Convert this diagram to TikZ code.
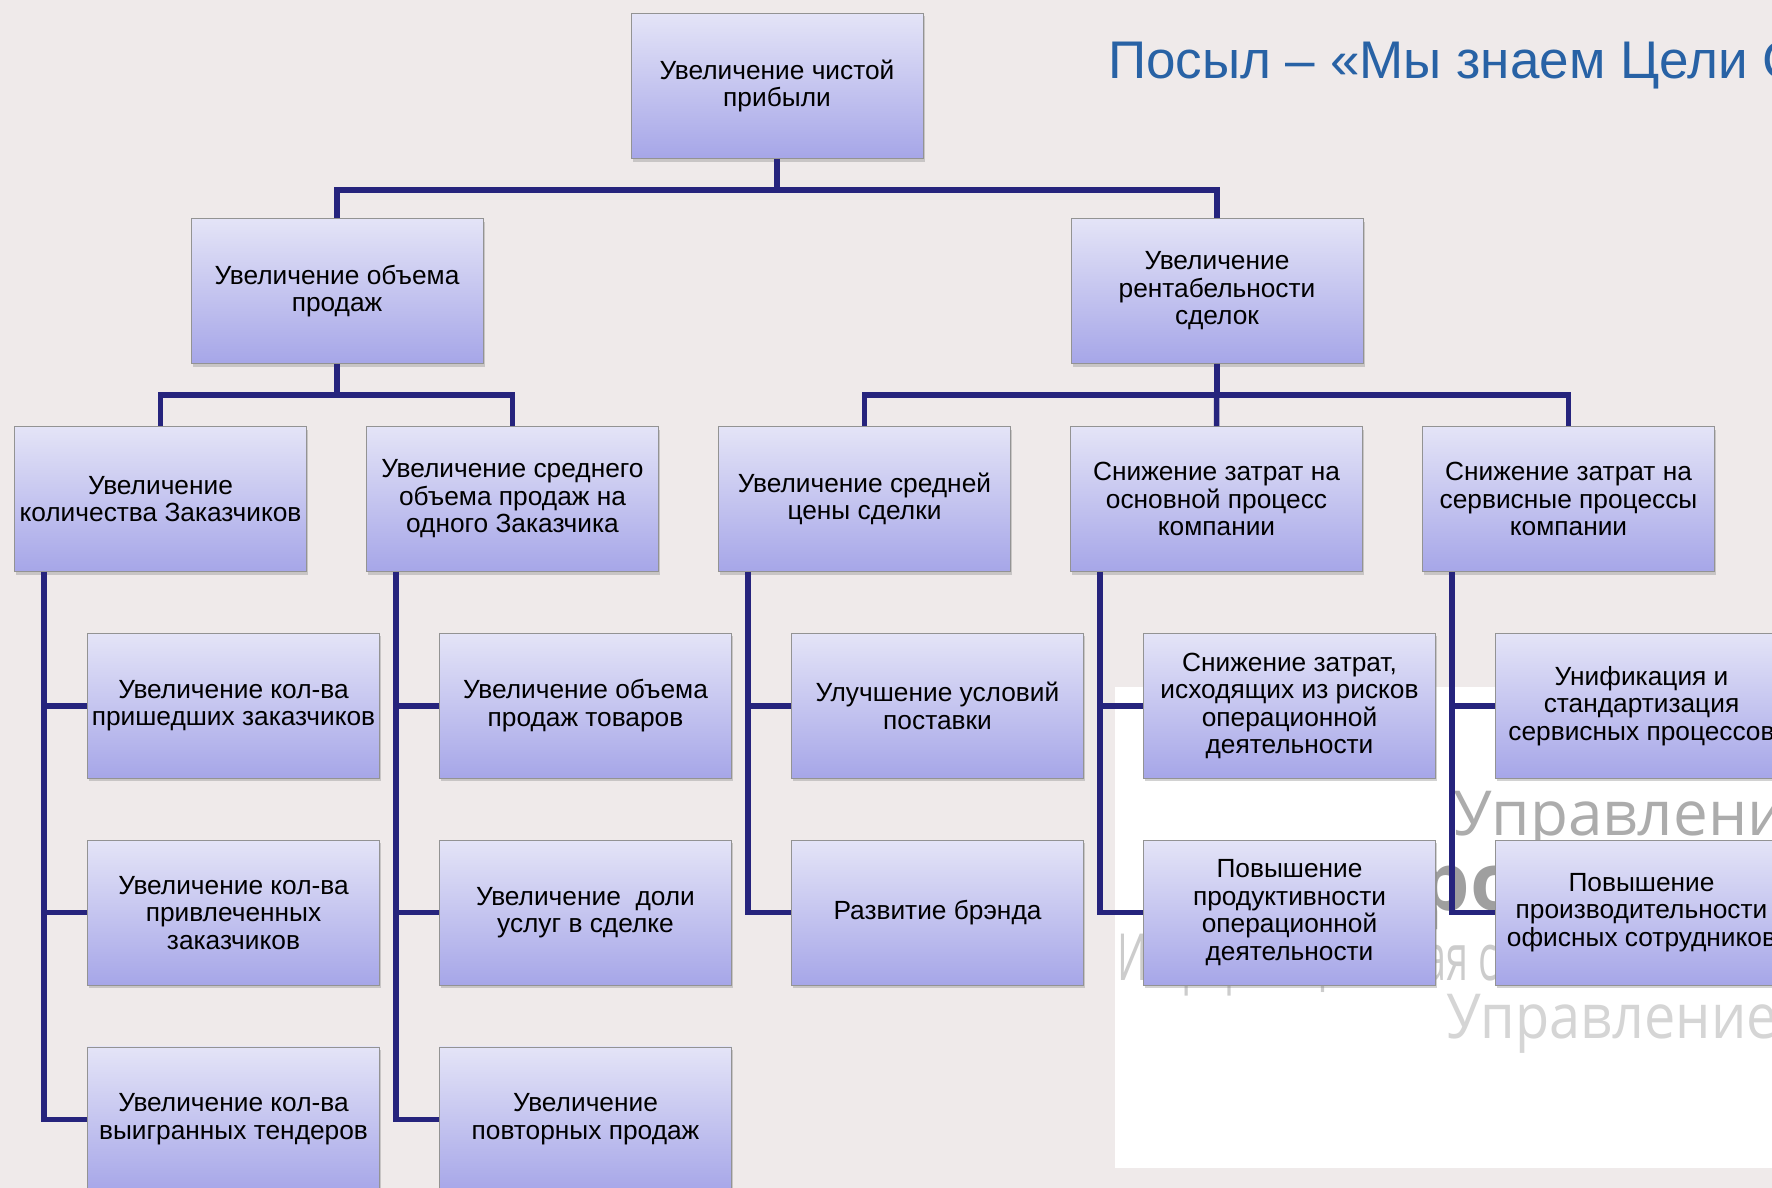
\documentclass[tikz,border=0pt]{standalone}
\usepackage{graphicx}
\usepackage{fontspec}
\setmainfont{Liberation Sans}
\newfontfamily\wmfont{Open Sans}
\usepackage{tikz}
\usetikzlibrary{positioning}
\usetikzlibrary{shadows}
\definecolor{paper}{RGB}{239,234,234}
\definecolor{navy}{RGB}{38,36,125}
\definecolor{boxtop}{RGB}{228,228,247}
\definecolor{boxbot}{RGB}{166,166,232}
\definecolor{titleblue}{RGB}{40,98,165}
\begin{document}
\begin{tikzpicture}[x=1pt,y=-1pt,node distance=352pt,
  goal/.style={draw=gray!85,line width=0.8pt,top color=boxtop,bottom color=boxbot,
    minimum width=292pt,minimum height=145pt,inner sep=0pt,align=center,
    font=\fontsize{26.3}{27.5}\selectfont,
    drop shadow={shadow xshift=1.5pt,shadow yshift=-3pt,opacity=0.35}},
  link/.style={draw=navy,line width=5.5pt},
  logotext/.style={anchor=base west,inner sep=0pt}]
  \useasboundingbox (0,0) rectangle (1772,1188);
  \clip (0,0) rectangle (1772,1188);
  \fill[paper] (0,0) rectangle (1772,1188);
  % white patch with the logo behind the boxes
  \begin{scope}
    \fill[white] (1115,687) rectangle (1772,1168);
    \clip (1115,687) rectangle (1772,1168);
    \node[logotext,text=gray!65,font=\wmfont\fontsize{62}{62}\selectfont] (w1) at (1453,835) {Управление};
    \node[logotext,text=gray!75,font=\wmfont\bfseries\fontsize{80}{80}\selectfont] (w2) at (1360,910) {Про};
    \node[logotext,text=gray!40,font=\wmfont\fontsize{65}{65}\selectfont] (w3) at (1117,980) {\scalebox{0.61}[1]{Информационная с}};
    \node[logotext,text=gray!33,font=\wmfont\fontsize{62}{62}\selectfont] (w4) at (1446,1038) {\scalebox{0.9}[1]{Управление}};
  \end{scope}
  \node[logotext,text=titleblue,font=\fontsize{53}{53}\selectfont] (title) at (1108,79) {Посыл – «Мы знаем Цели Собственника»};

  \node[goal] (0) at (777,86) {Увеличение чистой\\прибыли};
  \node[goal] (1) at (337,291) {Увеличение объема\\продаж};
  \node[goal] (2) at (1217,291) {Увеличение\\рентабельности\\сделок};
  \node[goal] (11) at (160.5,499) {Увеличение\\количества Заказчиков};
  \node[goal,right of=11] (12) {Увеличение среднего\\объема продаж на\\одного Заказчика};
  \node[goal,right of=12] (13) {Увеличение средней\\цены сделки};
  \node[goal,right of=13] (14) {Снижение затрат на\\основной процесс\\компании};
  \node[goal,right of=14] (15) {Снижение затрат на\\сервисные процессы\\компании};
  \node[goal,below=61pt of 11,xshift=73pt] (111) {Увеличение кол-ва\\пришедших заказчиков};
  \node[goal,below=61pt of 111] (112) {Увеличение кол-ва\\привлеченных\\заказчиков};
  \node[goal,below=61pt of 112] (113) {Увеличение кол-ва\\выигранных тендеров};
  \node[goal,below=61pt of 12,xshift=73pt] (121) {Увеличение объема\\продаж товаров};
  \node[goal,below=61pt of 121] (122) {Увеличение\ \ доли\\услуг в сделке};
  \node[goal,below=61pt of 122] (123) {Увеличение\\повторных продаж};
  \node[goal,below=61pt of 13,xshift=73pt] (131) {Улучшение условий\\поставки};
  \node[goal,below=61pt of 131] (132) {Развитие брэнда};
  \node[goal,below=61pt of 14,xshift=73pt] (141) {Снижение затрат,\\исходящих из рисков\\операционной\\деятельности};
  \node[goal,below=61pt of 141] (142) {Повышение\\продуктивности\\операционной\\деятельности};
  \node[goal,below=61pt of 15,xshift=73pt] (151) {Унификация и\\стандартизация\\сервисных процессов};
  \node[goal,below=61pt of 151] (152) {Повышение\\производительности\\офисных сотрудников};

  \draw[link] (0.south) -- ++(0,31) -| (1.north);
  \draw[link] (0.south) -- ++(0,31) -| (2.north);
  \draw[link] (1.south) -- ++(0,31) -| (11.north);
  \draw[link] (1.south) -- ++(0,31) -| (12.north);
  \draw[link] (2.south) -- ++(0,31) -| (13.north);
  \draw[link] (2.south) -- (14.north);
  \draw[link] (2.south) -- ++(0,31) -| (15.north);
  \draw[link] ([xshift=30pt]11.south west) |- (111.west);
  \draw[link] ([xshift=30pt]11.south west) |- (112.west);
  \draw[link] ([xshift=30pt]11.south west) |- (113.west);
  \draw[link] ([xshift=30pt]12.south west) |- (121.west);
  \draw[link] ([xshift=30pt]12.south west) |- (122.west);
  \draw[link] ([xshift=30pt]12.south west) |- (123.west);
  \draw[link] ([xshift=30pt]13.south west) |- (131.west);
  \draw[link] ([xshift=30pt]13.south west) |- (132.west);
  \draw[link] ([xshift=30pt]14.south west) |- (141.west);
  \draw[link] ([xshift=30pt]14.south west) |- (142.west);
  \draw[link] ([xshift=30pt]15.south west) |- (151.west);
  \draw[link] ([xshift=30pt]15.south west) |- (152.west);
\end{tikzpicture}
\end{document}
